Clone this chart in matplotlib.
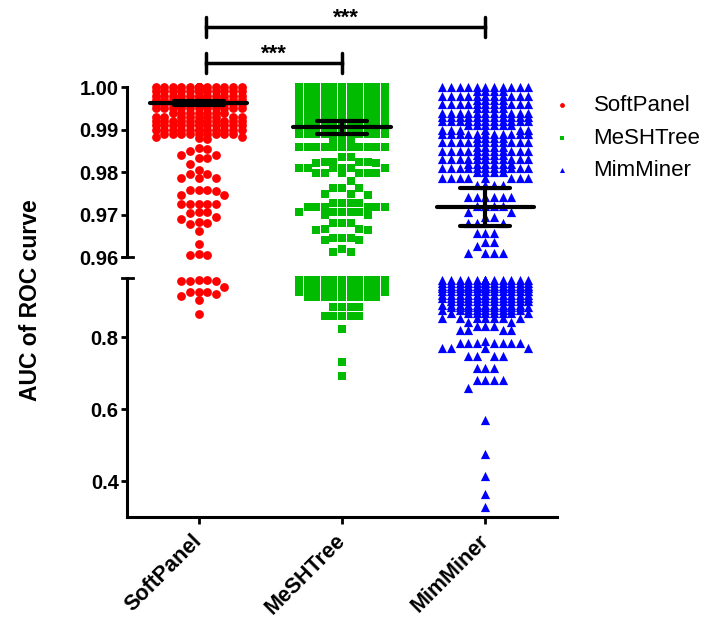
import numpy as np
import matplotlib
matplotlib.use('Agg')
import matplotlib.pyplot as plt
from matplotlib.ticker import FormatStrFormatter

plt.rcParams['font.family'] = ['Liberation Sans', 'DejaVu Sans']
plt.rcParams['font.weight'] = 'bold'

groups = ['SoftPanel', 'MeSHTree', 'MimMiner']
colors = ['#ff0000', '#00bb00', '#0000ff']
markers = ['o', 's', '^']
marker_sizes = [40, 33, 44]

# crowded parts of each column: value and how many points sit there
softpanel_levels = [1.000, 0.999, 0.998, 0.997, 0.996, 0.995, 0.994, 0.993, 0.992, 0.991, 0.990, 0.989]
softpanel_counts = [24, 14, 12, 12, 12, 11, 7, 9, 12, 12, 12, 9]
softpanel_other = [0.9883, 0.9880, 0.9878, 0.9882, 0.9856, 0.9853, 0.9850, 0.9840, 0.9840,
                   0.9833, 0.9833, 0.9820, 0.9805, 0.9795, 0.9795, 0.9785, 0.9785, 0.9785,
                   0.9758, 0.9757, 0.9757, 0.9755, 0.9745, 0.9745, 0.9725, 0.9725, 0.9725,
                   0.9725, 0.9725, 0.9705, 0.9705, 0.9703, 0.9693, 0.9690, 0.9682, 0.9680,
                   0.9678, 0.9662, 0.9630, 0.9605, 0.9605, 0.9608,
                   0.9595, 0.958, 0.957, 0.955, 0.955, 0.940, 0.926, 0.925, 0.925, 0.920,
                   0.915, 0.903, 0.864]

meshtree_levels = [1.000, 0.999, 0.998, 0.997, 0.996, 0.995, 0.994, 0.993, 0.992, 0.991, 0.990, 0.989,
                   0.986, 0.958, 0.953, 0.948, 0.943, 0.937, 0.931, 0.926]
meshtree_counts = [30, 16, 14, 14, 14, 14, 14, 14, 14, 12, 12, 11,
                   11, 11, 11, 11, 9, 10, 8, 6]
meshtree_other = [0.9875, 0.9875, 0.9875, 0.9836, 0.9836, 0.9824, 0.9824, 0.9824, 0.9824,
                  0.9822, 0.9822, 0.9809, 0.9809, 0.9809, 0.9809, 0.9809, 0.9809,
                  0.9797, 0.9797, 0.9797, 0.9797, 0.9797, 0.9797, 0.9780,
                  0.9762, 0.9762, 0.9762, 0.9748, 0.9748, 0.9745,
                  0.9728, 0.9728, 0.9728, 0.9728, 0.9718, 0.9718, 0.9718, 0.9718, 0.9718, 0.9718,
                  0.9707, 0.9707, 0.9707, 0.9707, 0.9707, 0.9700, 0.9700,
                  0.9679, 0.9679, 0.9679, 0.9665, 0.9665, 0.9663, 0.9663,
                  0.9644, 0.9644, 0.9644, 0.9640, 0.9640, 0.9620, 0.9612, 0.9612,
                  0.911, 0.911, 0.911, 0.911, 0.911, 0.911, 0.911, 0.911, 0.911,
                  0.884, 0.884, 0.884, 0.884, 0.858, 0.858, 0.858, 0.858, 0.858,
                  0.821, 0.730, 0.692]

mimminer_levels = [1.000, 0.999, 0.998, 0.997, 0.996, 0.995, 0.994, 0.993, 0.992, 0.991, 0.990,
                   0.989, 0.988, 0.987, 0.986, 0.985, 0.984, 0.983, 0.982, 0.981, 0.980, 0.9785, 0.977,
                   0.958, 0.950, 0.942, 0.935, 0.927, 0.917, 0.908, 0.899, 0.890, 0.883, 0.875, 0.867]
mimminer_counts = [11, 4, 11, 4, 11, 4, 11, 11, 11, 6, 6,
                   11, 4, 11, 4, 11, 4, 12, 6, 11, 4, 8, 4,
                   14, 13, 13, 13, 12, 12, 11, 10, 10, 10, 9, 8]
mimminer_other = [0.9742, 0.9742, 0.9742, 0.9742, 0.9742, 0.9742, 0.9720, 0.9720, 0.9720, 0.9720,
                  0.9705, 0.9705, 0.9695, 0.9695, 0.9680, 0.9680, 0.9680,
                  0.9656, 0.9656, 0.9656, 0.9635, 0.9635, 0.9625, 0.9610, 0.9610, 0.9610, 0.9610,
                  0.853, 0.853, 0.853, 0.853, 0.853, 0.853, 0.853, 0.843, 0.843,
                  0.830, 0.830, 0.830, 0.820, 0.820, 0.820, 0.820,
                  0.790, 0.783, 0.783, 0.783, 0.783, 0.783, 0.783, 0.783,
                  0.770, 0.770, 0.770, 0.770, 0.748, 0.748, 0.748, 0.748,
                  0.714, 0.714, 0.714, 0.680, 0.680, 0.680, 0.680, 0.658,
                  0.570, 0.475, 0.414, 0.364, 0.329]

# mean and interval shown by the black bars
means = [0.9963, 0.9905, 0.9718]
ci_low = [0.9958, 0.9889, 0.9674]
ci_high = [0.9968, 0.9921, 0.9762]


def expand(levels, counts, other):
    return np.concatenate([np.repeat(levels, counts), other])


data = [expand(softpanel_levels, softpanel_counts, softpanel_other),
        expand(meshtree_levels, meshtree_counts, meshtree_other),
        expand(mimminer_levels, mimminer_counts, mimminer_other)]


def swarm_offsets(ax, vals, step, half_cols):
    """beeswarm in pixels: put each point on the nearest free column"""
    ypx = ax.transData.transform(np.column_stack([np.zeros(len(vals)), vals]))[:, 1]
    cand = [0]
    for k in range(1, half_cols + 1):
        cand += [k, -k]
    cand = np.array(cand) * step
    px_list, py_list = [], []
    xs = np.zeros(len(vals))
    for i in np.argsort(-ypx, kind='stable'):
        px = np.array(px_list)
        py = np.array(py_list)
        if len(py):
            near = np.abs(py - ypx[i]) < step
            px, py = px[near], py[near]
        best, best_d = 0.0, -1.0
        for c in cand:
            d = np.min(np.hypot(px - c, py - ypx[i])) if len(px) else np.inf
            if d >= step * 0.95:
                best = c
                break
            if d > best_d:
                best, best_d = c, d
        xs[i] = best
        px_list.append(best)
        py_list.append(ypx[i])
    return xs


fig = plt.figure(figsize=(7.10, 6.23), dpi=100)
W, H = 710, 623
ax_top = fig.add_axes([127 / W, 1 - 257 / H, 430 / W, 170 / H])
ax_bot = fig.add_axes([127 / W, 1 - 517 / H, 430 / W, 239 / H])

ax_top.set_xlim(-0.5, 2.5)
ax_bot.set_xlim(-0.5, 2.5)
ax_top.set_ylim(0.96, 1.00)
ax_bot.set_ylim(0.30, 0.964)

px_per_cat = 430 / 3.0
handles = []
for i, vals in enumerate(data):
    for ax, keep in [(ax_top, vals >= 0.96), (ax_bot, vals < 0.96)]:
        v = vals[keep]
        off = swarm_offsets(ax, v, 8.6, 5) / px_per_cat
        h = ax.scatter(i + off, v, s=marker_sizes[i], marker=markers[i], color=colors[i],
                       linewidths=0, clip_on=False, zorder=2, label=groups[i])
    handles.append(h)

# mean line and interval
for i in range(3):
    ax_top.plot([i - 0.34, i + 0.34], [means[i], means[i]], color='black', lw=3,
                solid_capstyle='round', zorder=5)
    ax_top.plot([i, i], [ci_low[i], ci_high[i]], color='black', lw=3, zorder=5)
    for yv in [ci_low[i], ci_high[i]]:
        ax_top.plot([i - 0.175, i + 0.175], [yv, yv], color='black', lw=3,
                    solid_capstyle='round', zorder=5)

# axes styling
for ax in [ax_top, ax_bot]:
    for s in ['top', 'right']:
        ax.spines[s].set_visible(False)
    ax.spines['left'].set_linewidth(2.2)
    ax.tick_params(axis='y', length=4, width=2, labelsize=14.5, pad=2)
ax_top.spines['bottom'].set_visible(False)
ax_top.set_xticks([])
ax_top.set_yticks([0.96, 0.97, 0.98, 0.99, 1.00])
ax_top.yaxis.set_major_formatter(FormatStrFormatter('%.2f'))
ax_bot.set_yticks([0.4, 0.6, 0.8])
ax_bot.yaxis.set_major_formatter(FormatStrFormatter('%.1f'))
ax_bot.spines['bottom'].set_linewidth(2.2)
ax_bot.set_xticks([0, 1, 2])
ax_bot.set_xticklabels(groups, rotation=45, ha='right', va='center', rotation_mode='anchor')
ax_bot.tick_params(axis='x', length=5, width=2, labelsize=15.5, pad=10)

# caps at the axis break
ax_top.plot([-0.012, 0.014], [0, 0], transform=ax_top.transAxes, color='black', lw=2,
            clip_on=False)
ax_bot.plot([-0.012, 0.014], [1, 1], transform=ax_bot.transAxes, color='black', lw=2,
            clip_on=False)

fig.text(31 / W, 1 - 300 / H, 'AUC of ROC curve', rotation=90, ha='center', va='center',
         fontsize=16.5, fontweight='bold')


# significance brackets
def sig_bar(x0, x1, y, h, label):
    ax_top.plot([x0, x1], [y, y], color='black', lw=2.5, clip_on=False)
    for xv in [x0, x1]:
        ax_top.plot([xv, xv], [y - h, y + h], color='black', lw=2.5, solid_capstyle='round',
                    clip_on=False)
    ax_top.text((x0 + x1) / 2, y + 0.0008, label, ha='center', va='baseline', fontsize=16,
                fontweight='bold', clip_on=False)


sig_bar(0.05, 2.0, 1.0141, 0.0023, '***')
sig_bar(0.05, 1.0, 1.00565, 0.0023, '***')

leg = fig.legend(handles=handles, loc='upper left', bbox_to_anchor=(538 / W, 1 - 84 / H),
                 frameon=False, markerscale=0.55, handlelength=1.2, handletextpad=0.8,
                 labelspacing=0.52, borderpad=0,
                 prop={'family': 'Liberation Sans', 'weight': 'normal', 'size': 16})

fig.savefig('out.png', dpi=100)
